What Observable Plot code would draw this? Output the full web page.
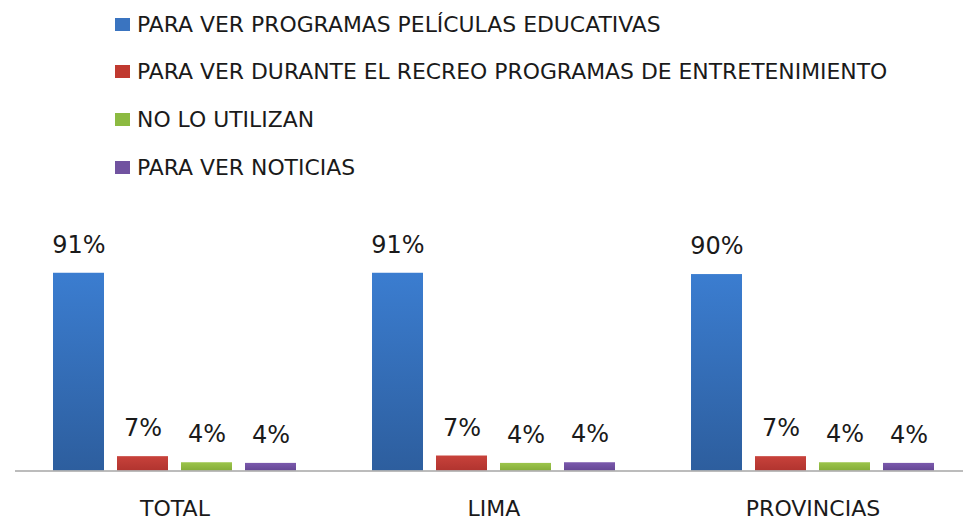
<!DOCTYPE html>
<html>
<head>
<meta charset="utf-8">
<script src="https://cdn.jsdelivr.net/npm/d3@7"></script>
<script src="https://cdn.jsdelivr.net/npm/@observablehq/plot@0.6"></script>
<style>
  html, body { margin: 0; padding: 0; background: #fff; overflow: hidden; }
  #wrap { position: relative; width: 963px; height: 521px; font-family: "DejaVu Sans", sans-serif; }
  #chart { position: absolute; left: 0; top: 0; }
  #legend { position: absolute; left: 0; top: 0; }
  .item { position: absolute; left: 115px; height: 24px; display: flex; align-items: center; font-size: 21.9px; color: #1a1a1a; white-space: nowrap; }
  .sw { width: 15px; height: 13px; margin-right: 7px; flex: none; }
</style>
</head>
<body>
<div id="wrap">
  <div id="chart"></div>
  <div id="legend"></div>
</div>
<script>
const categories = ["TOTAL", "LIMA", "PROVINCIAS"];
const series = [
  "PARA VER PROGRAMAS PELÍCULAS EDUCATIVAS",
  "PARA VER DURANTE EL RECREO PROGRAMAS DE ENTRETENIMIENTO",
  "NO LO UTILIZAN",
  "PARA VER NOTICIAS"
];
const educativas = [91, 91, 90.4];
const recreo = [6.6, 6.9, 6.6];
const noUtilizan = [3.8, 3.5, 3.8];
const noticias = [3.5, 3.8, 3.5];

const swatchColors = ["#3a74c0", "#c0392f", "#8cba41", "#7153a0"];
const gradStops = [["#3b7dd0", "#2d5e9e"], ["#c8423b", "#b1342f"], ["#9cc54b", "#85ad39"], ["#7b59ad", "#654794"]];

const seriesValues = [educativas, recreo, noUtilizan, noticias];
const table = [];
categories.forEach((c, i) => {
  series.forEach((s, j) => {
    table.push({category: c, series: s, value: seriesValues[j][i]});
  });
});

const urls = series.map((s, j) => `url(#grad${j})`);

const chart = Plot.plot({
  width: 963,
  height: 521,
  marginTop: 253.2,
  marginBottom: 50.5,
  marginLeft: 15,
  marginRight: 0,
  style: {fontFamily: "'DejaVu Sans', sans-serif", background: "transparent"},
  facet: {data: table, x: "category"},
  fx: {domain: categories, range: [15, 972], padding: 0, axis: null},
  x: {domain: series, paddingInner: 0.2, paddingOuter: 0.58, axis: null},
  y: {domain: [0, 100], axis: null},
  color: {domain: series, range: urls},
  marks: [
    Plot.barY(table, {x: "series", y: "value", fill: "series"}),
    Plot.ruleY([0], {stroke: "#a6a6a6", strokeWidth: 1.5}),
    Plot.text(table, {
      x: "series", y: "value",
      text: d => Math.round(d.value) + "%",
      dy: -28, lineAnchor: "middle", textAnchor: "middle",
      fontSize: 24, fill: "#1a1a1a"
    }),
    Plot.text(table, {
      filter: d => d.series === series[0],
      text: "category",
      frameAnchor: "bottom",
      dy: 37.5, lineAnchor: "middle", textAnchor: "middle",
      fontSize: 22, fill: "#1a1a1a"
    })
  ]
});

const defs = gradStops.map((g, j) =>
  `<linearGradient id="grad${j}" x1="0" y1="0" x2="0" y2="1"><stop offset="0" stop-color="${g[0]}"/><stop offset="1" stop-color="${g[1]}"/></linearGradient>`
).join("");
chart.insertAdjacentHTML("afterbegin", `<defs>${defs}</defs>`);
document.getElementById("chart").appendChild(chart);

const legendTops = [12, 59, 107, 155];
const legend = document.getElementById("legend");
series.forEach((s, j) => {
  const item = document.createElement("div");
  item.className = "item";
  item.style.top = legendTops[j] + "px";
  const sw = document.createElement("span");
  sw.className = "sw";
  sw.style.background = swatchColors[j];
  const t = document.createElement("span");
  t.textContent = s;
  item.appendChild(sw);
  item.appendChild(t);
  legend.appendChild(item);
});
</script>
</body>
</html>
